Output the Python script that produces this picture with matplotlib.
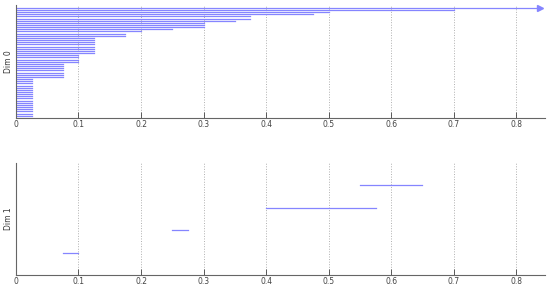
import numpy as np
import matplotlib
matplotlib.use("Agg")
import matplotlib.pyplot as plt

# persistence intervals, dim 0 (all born at 0), death values; inf = never dies
dim0_death = [np.inf, 0.7, 0.5, 0.475, 0.375, 0.375, 0.35, 0.3, 0.3, 0.3, 0.25, 0.2,
              0.175, 0.175] + [0.125] * 8 + [0.1] * 4 + [0.075] * 7 + [0.025] * 18
dim0_birth = [0.0] * len(dim0_death)

# dim 1 intervals
dim1_birth = [0.075, 0.25, 0.4, 0.55]
dim1_death = [0.1, 0.275, 0.575, 0.65]

xmax = 0.846
bar_color = "#8585ff"
ticks = [0, 0.1, 0.2, 0.3, 0.4, 0.5, 0.6, 0.7, 0.8]


def style_axes(ax, label):
    ax.set_xlim(0, xmax)
    ax.set_xticks(ticks)
    ax.set_xticklabels(["0" if t == 0 else str(t) for t in ticks])
    ax.set_yticks([])
    for s in ("top", "right"):
        ax.spines[s].set_visible(False)
    for s in ("left", "bottom"):
        ax.spines[s].set_color("#666666")
        ax.spines[s].set_linewidth(0.8)
    ax.tick_params(axis="x", labelsize=5.5, colors="#444444", direction="in",
                   length=4, width=0.6, pad=1.5)
    ax.xaxis.grid(True, linestyle=":", color="#b0b0b0", linewidth=0.7)
    ax.set_axisbelow(True)
    ax.set_ylabel(label, fontsize=5.5, color="#333333", labelpad=2)


fig = plt.figure(figsize=(5.5, 2.89), dpi=100)
ax0 = fig.add_axes([0.029, 0.592, 0.962, 0.391])
ax1 = fig.add_axes([0.029, 0.048, 0.962, 0.388])

n0 = len(dim0_death)
for i, (b, d) in enumerate(zip(dim0_birth, dim0_death)):
    y = n0 - i
    if np.isinf(d):
        ax0.plot([b, xmax * 0.99], [y, y], color=bar_color, lw=0.9)
        ax0.plot([xmax * 0.99], [y], marker=">", color=bar_color, ms=4, clip_on=False)
    else:
        ax0.plot([b, d], [y, y], color=bar_color, lw=0.9)
ax0.set_ylim(0, n0 + 1.3)
style_axes(ax0, "Dim 0")

for i, (b, d) in enumerate(zip(dim1_birth, dim1_death)):
    ax1.plot([b, d], [i + 1, i + 1], color=bar_color, lw=0.9)
ax1.set_ylim(0, 5)
style_axes(ax1, "Dim 1")

fig.savefig("out.png", dpi=100)
